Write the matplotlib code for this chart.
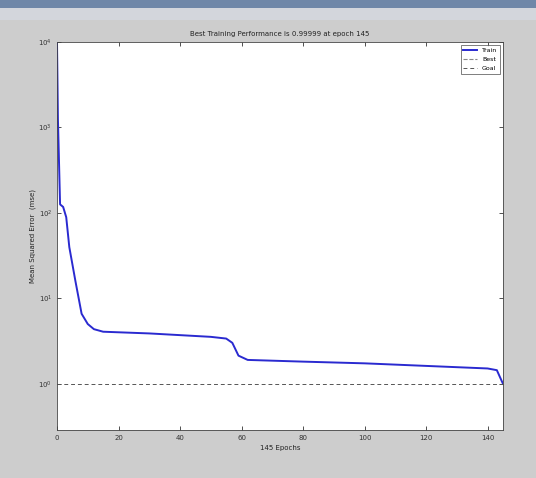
import numpy as np
import matplotlib
matplotlib.use('Agg')
import matplotlib.pyplot as plt
from matplotlib.patches import Rectangle

# training curve (epoch, log10 mse)
epochs = [0, 0.3, 1, 2, 3, 4, 6, 8, 10, 12, 15, 30, 50, 55, 57, 59, 62, 80, 100, 120, 140, 143, 145]
log_mse = [4.0, 3.1, 2.1, 2.07, 1.95, 1.60, 1.20, 0.82, 0.70, 0.64, 0.61, 0.59, 0.55,
           0.53, 0.48, 0.33, 0.28, 0.26, 0.24, 0.21, 0.18, 0.16, 0.0]
goal = 1.0
n_epochs = 145
xticks = [0, 20, 40, 60, 80, 100, 120, 140]
yticks = [1e0, 1e1, 1e2, 1e3, 1e4]
title = 'Best Training Performance is 0.99999 at epoch 145'

mse = 10 ** np.array(log_mse)

fig = plt.figure(figsize=(5.36, 4.78), dpi=100)
fig.patch.set_facecolor('#cdcdcd')
# window title strip at the very top of the screenshot
fig.patches.append(Rectangle((0, 1 - 8 / 478), 1, 8 / 478, transform=fig.transFigure,
                             facecolor='#6f87a8', edgecolor='none', zorder=0))
fig.patches.append(Rectangle((0, 1 - 20 / 478), 1, 12 / 478, transform=fig.transFigure,
                             facecolor='#d3d6dc', edgecolor='none', zorder=0))

ax = fig.add_axes([57 / 536, 1 - 430 / 478, 446 / 536, 388 / 478])
ax.set_facecolor('white')

ax.semilogy(epochs, mse, color='#2a2ad0', linewidth=1.4, label='Train')
ax.plot([], [], color='#888888', linestyle='--', linewidth=0.8, label='Best')
ax.axhline(goal, color='#555555', linestyle=(0, (4, 3)), linewidth=0.7, label='Goal')

ax.set_xlim(0, n_epochs)
ax.set_ylim(10 ** -0.54, 1e4)
ax.set_xticks(xticks)
ax.set_yticks(yticks)
ax.minorticks_off()
ax.tick_params(direction='in', labelsize=5, length=3, width=0.6, top=True, right=True,
               colors='#333333')

ax.set_title(title, fontsize=5, color='#222222', pad=4)
ax.set_xlabel('145 Epochs', fontsize=5, color='#222222', labelpad=3)
ax.set_ylabel('Mean Squared Error  (mse)', fontsize=5, color='#222222', labelpad=2)

for s in ax.spines.values():
    s.set_linewidth(0.6)
    s.set_color('#444444')

leg = ax.legend(loc='upper right', fontsize=4.5, frameon=True, fancybox=False,
                handlelength=2.2, borderpad=0.4, labelspacing=0.6)
leg.get_frame().set_edgecolor('#444444')
leg.get_frame().set_linewidth(0.6)

fig.savefig('out.png', dpi=100, facecolor=fig.get_facecolor())
